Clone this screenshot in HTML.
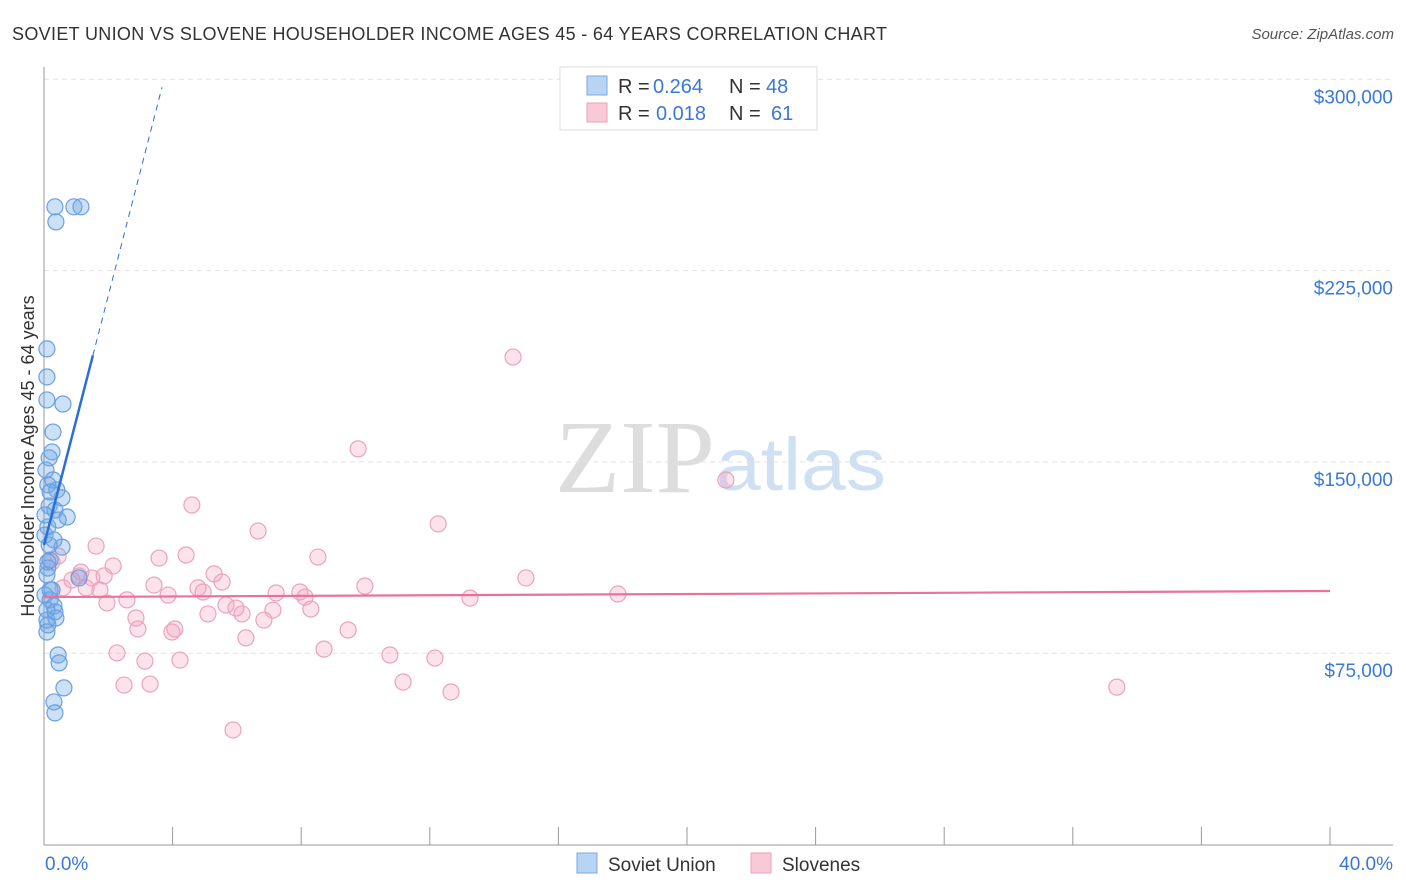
<!DOCTYPE html>
<html><head><meta charset="utf-8"><style>
body{margin:0;background:#fff;font-family:"Liberation Sans",sans-serif;}
svg{display:block}
</style></head><body>
<svg id="chart" width="1406" height="892">
<text x="12" y="40" font-size="18" fill="#333" textLength="875" lengthAdjust="spacing">SOVIET UNION VS SLOVENE HOUSEHOLDER INCOME AGES 45 - 64 YEARS CORRELATION CHART</text>
<text x="1394" y="39" font-size="15" fill="#555" font-style="italic" text-anchor="end">Source: ZipAtlas.com</text>
<text x="555" y="492" font-size="104" fill="#ddd" textLength="160" lengthAdjust="spacingAndGlyphs" font-family="Liberation Serif,serif">ZIP</text>
<text x="716" y="490" font-size="74" fill="#cfe0f3" textLength="170" lengthAdjust="spacingAndGlyphs">atlas</text>
<g id="grid"></g>
<g id="marks"></g>
<text transform="translate(34,456) rotate(-90)" font-size="18" fill="#333" text-anchor="middle">Householder Income Ages 45 - 64 years</text>
<text x="45" y="870" font-size="19" fill="#3a78d4">0.0%</text>
<text x="1393" y="870" font-size="19" fill="#3a78d4" text-anchor="end">40.0%</text>
<g>
<rect x="560" y="67" width="257" height="63" fill="#fff" stroke="#ddd"/>
<rect x="587" y="76" width="20" height="19" fill="#b8d4f5" stroke="#7aa8e0"/>
<rect x="587" y="103" width="20" height="19" fill="#f9c9d8" stroke="#eaa0b9"/>
<text x="618" y="93" font-size="20" fill="#333">R =</text>
<text x="653" y="93" font-size="20" fill="#3a78d4">0.264</text>
<text x="729" y="93" font-size="20" fill="#333">N =</text>
<text x="766" y="93" font-size="20" fill="#3a78d4">48</text>
<text x="618" y="120" font-size="20" fill="#333">R =</text>
<text x="656" y="120" font-size="20" fill="#3a78d4">0.018</text>
<text x="729" y="120" font-size="20" fill="#333">N =</text>
<text x="771" y="120" font-size="20" fill="#3a78d4">61</text>
</g>
<g>
<rect x="577" y="853" width="20" height="20" fill="#b8d4f5" stroke="#7aa8e0"/>
<text x="608" y="871" font-size="19" fill="#333">Soviet Union</text>
<rect x="751" y="853" width="20" height="20" fill="#f9c9d8" stroke="#eaa0b9"/>
<text x="782" y="871" font-size="19" fill="#333">Slovenes</text>
</g>
</svg>
<script>
const yTicks=[75000,150000,225000,300000];
const yTickLabels=["$75,000","$150,000","$225,000","$300,000"];
const xTicks=[0,4,8,12,16,20,24,28,32,36,40];
const sovietX=[0.34,0.93,1.15,0.37,0.09,0.09,0.09,0.59,0.28,0.25,0.16,0.28,0.12,0.40,0.56,0.16,0.34,0.72,0.12,0.31,0.56,0.19,0.12,0.09,1.09,0.19,0.31,0.09,0.37,0.12,0.09,0.44,0.47,0.62,0.31,0.34,0.12,0.19,0.03,0.25,0.09,0.16,0.44,0.03,0.06,0.19,0.03,0.34];
const sovietY=[250000,250000,250000,244100,194300,183300,174300,172700,161700,153900,151600,142900,141000,139000,135900,132700,131100,128400,124500,119400,116600,111500,108400,105700,104500,95900,93500,92000,88800,86100,83300,74300,71200,61400,55900,51600,110800,99800,97800,99800,88000,117400,127200,129200,146800,138200,121300,91200];
const slovPx=[513,358,726,192,438,258,96,159,186,318,58,52,113,214,81,104,526,79,222,154,365,63,198,86,168,203,276,300,305,618,127,470,107,226,236,273,311,208,242,136,264,138,175,172,348,246,324,117,390,145,180,435,124,150,403,451,1117,233,72,92,100];
const slovPy=[357,449,480,505,524,531,546,558,555,557,556,562,566,574,572,576,578,576,582,585,586,588,588,588,595,592,593,592,597,594,600,598,603,605,608,610,609,614,614,618,620,629,629,632,630,638,649,653,655,661,660,658,685,684,682,692,687,730,580,578,590];
const sloveneX=slovPx.map(p=>+((p-44)/1286*40).toFixed(2));
const sloveneY=slovPy.map(p=>Math.round((844.5-p)/191.3*75000/100)*100);
const sovietLine=[117400,48900];
const sloveneLine=[97000,0.06];
const X=v=>44+v/40*1286, Y=v=>844.5-v/75000*191.3;
const NS="http://www.w3.org/2000/svg";
function mk(t,a,p){const e=document.createElementNS(NS,t);for(const k in a)e.setAttribute(k,a[k]);p.appendChild(e);return e;}
const grid=document.getElementById('grid'), marks=document.getElementById('marks');
yTicks.forEach((v,i)=>{
 const l=mk('line',{x1:44,x2:1393,y1:Y(v),y2:Y(v),stroke:'#e2e2e2','stroke-dasharray':'5,4'},grid);
 
 
 const t=mk('text',{x:1393,y:Y(v)+24,'font-size':19,fill:'#3a78d4','text-anchor':'end'},grid);
 t.textContent=yTickLabels[i];
 
 
});
mk('line',{x1:44,x2:44,y1:67,y2:845,stroke:'#999'},grid);
mk('line',{x1:44,x2:1393,y1:845,y2:845,stroke:'#999'},grid);
xTicks.forEach(v=>{
 const l=mk('line',{x1:X(v),x2:X(v),y1:827,y2:845,stroke:'#999'},grid);
 
 
});
sloveneX.forEach((x,i)=>{
 const c=mk('circle',{cx:X(x),cy:Y(sloveneY[i]),r:8,fill:'rgba(244,160,190,0.3)',stroke:'#eba3bc','stroke-width':1.2},marks);
 
 
});
sovietX.forEach((x,i)=>{
 const c=mk('circle',{cx:X(x),cy:Y(sovietY[i]),r:8,fill:'rgba(110,165,230,0.35)',stroke:'#6a9fe0','stroke-width':1.2},marks);
 
 
});
const sf=x=>sovietLine[0]+sovietLine[1]*x;
const b1=mk('line',{x1:X(0),y1:Y(sf(0)),x2:X(1.52),y2:Y(sf(1.52)),stroke:'#2a6fd6','stroke-width':2.5},marks);


const b2=mk('line',{x1:X(1.52),y1:Y(sf(1.52)),x2:X(3.67),y2:Y(sf(3.67)),stroke:'#2a6fd6','stroke-width':1,'stroke-dasharray':'6,5'},marks);


const pf=x=>sloveneLine[0]+sloveneLine[1]*x*1000;
const p1=mk('line',{x1:X(0),y1:Y(pf(0)),x2:X(40),y2:Y(pf(40)),stroke:'#e8729a','stroke-width':2.2},marks);


</script>
</body></html>
